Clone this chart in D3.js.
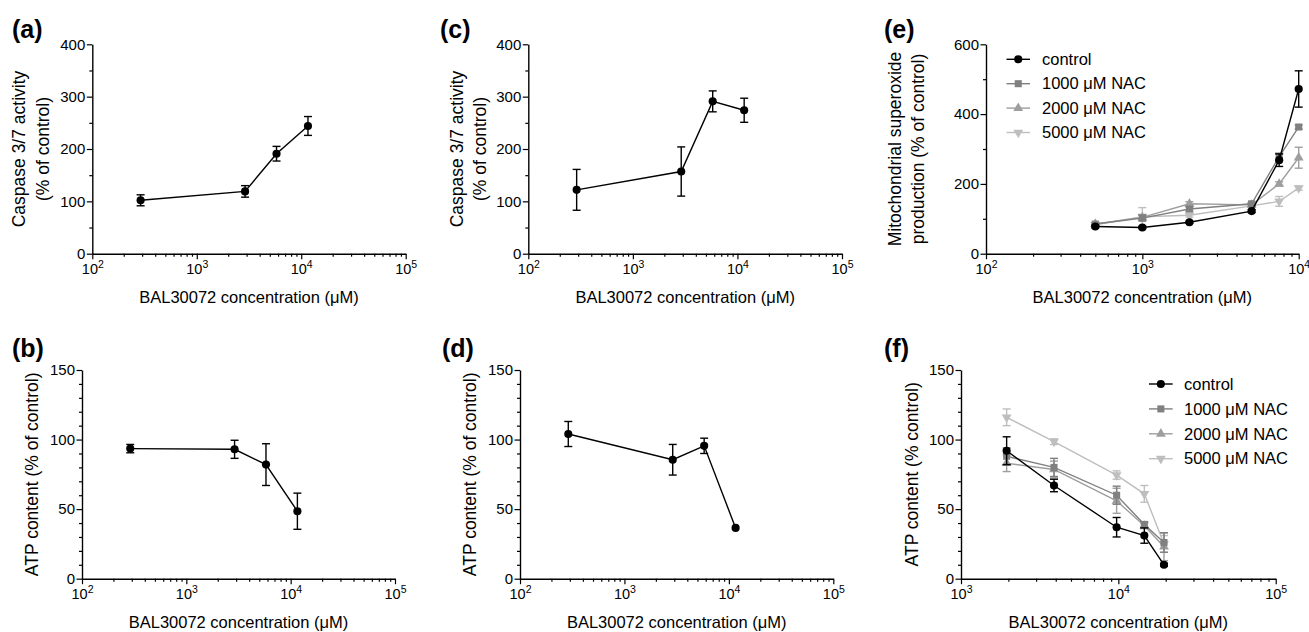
<!DOCTYPE html>
<html>
<head>
<meta charset="utf-8">
<script src="https://cdn.jsdelivr.net/npm/d3@7"></script>
<style>
  body { margin: 0; background: #fff; }
  svg { font-family: "Liberation Sans", Arial, sans-serif; }
</style>
</head>
<body>
<svg id="fig" width="1309" height="632"></svg>
<script>
// BAL30072 concentrations (uM)
const concAD = [290, 2900, 5800, 11600];
const concE = [500, 1000, 2000, 5000, 7500, 10000];
const concF = [1950, 3900, 9750, 14625, 19500];

// (a) caspase 3/7, (c) caspase 3/7
const caspaseA = [102, 119, 191, 244];
const caspaseAErr = [10.5, 11, 14, 18];
const caspaseC = [122, 157, 291, 274];
const caspaseCErr = [39, 47, 20, 23];

// (b), (d) ATP content
const atpB = [93.5, 93, 82, 48.5];
const atpBErr = [3, 6.5, 15, 13];
const atpD = [104, 85.5, 95.5, 36.5];
const atpDErr = [9, 11, 5.5, 0];

// (e) mitochondrial superoxide
const supControl = [78, 75, 90, 122, 268, 472];
const supControlErr = [4, 3, 3, 4, 18, 52];
const sup1000 = [85, 102, 128, 143, 278, 363];
const sup1000Err = [4, 8, 6, 4, 10, 6];
const sup2000 = [85, 104, 143, 140, 200, 275];
const sup2000Err = [4, 8, 6, 4, 6, 30];
const sup5000 = [83, 106, 110, 137, 150, 188];
const sup5000Err = [3, 26, 5, 4, 14, 6];

// (f) ATP content with NAC
const atpFControl = [92, 67, 37, 31, 10];
const atpFControlErr = [10, 4.5, 7, 5.5, 1];
const atpF1000 = [88, 80, 60, 39, 26];
const atpF1000Err = [6, 6.5, 6.5, 2, 7];
const atpF2000 = [83, 78.5, 56, 38, 23];
const atpF2000Err = [6, 6, 9, 2, 10];
const atpF5000 = [116, 98.5, 74.5, 61, 25];
const atpF5000Err = [6, 2, 3, 6, 6];

const seriesNames = ['control', '1000 \u03bcM NAC', '2000 \u03bcM NAC', '5000 \u03bcM NAC'];
const xTitle = 'BAL30072 concentration (\u03bcM)';

const styles = [
  { color: '#000000', symbol: d3.symbolCircle, size: 52, rotate: 0 },
  { color: '#808080', symbol: d3.symbolSquare, size: 50, rotate: 0 },
  { color: '#9e9e9e', symbol: d3.symbolTriangle, size: 42, rotate: 0 },
  { color: '#bebebe', symbol: d3.symbolTriangle, size: 42, rotate: 180 }
];

function mk(conc, vals, errs) {
  return conc.map((c, i) => ({ c: c, v: vals[i], e: errs[i] }));
}

const panels = [
  { label: '(a)', lx: 12, ly: 38, left: 92.3, right: 405.7, top: 44.3, bottom: 253.7,
    xDomain: [1e2, 1e5], yDomain: [0, 400], major: 100, minor: 50,
    yTitle: ['Caspase 3/7 activity', '(% of control)'], yTitleX: [19, 43],
    series: [mk(concAD, caspaseA, caspaseAErr)] },
  { label: '(c)', lx: 440, ly: 38, left: 528.3, right: 842, top: 44.3, bottom: 253.7,
    xDomain: [1e2, 1e5], yDomain: [0, 400], major: 100, minor: 50,
    yTitle: ['Caspase 3/7 activity', '(% of control)'], yTitleX: [456.5, 480],
    series: [mk(concAD, caspaseC, caspaseCErr)] },
  { label: '(e)', lx: 884, ly: 38, left: 986, right: 1298.7, top: 44.3, bottom: 253.7,
    xDomain: [1e2, 1e4], yDomain: [0, 600], major: 200, minor: 100,
    yTitle: ['Mitochondrial superoxide', 'production (% of control)'], yTitleX: [895, 918],
    series: [mk(concE, supControl, supControlErr), mk(concE, sup1000, sup1000Err),
             mk(concE, sup2000, sup2000Err), mk(concE, sup5000, sup5000Err)],
    legend: { x0: 1006.5, x1: 1030, tx: 1042, y0: 59.3, dy: 24.4 } },
  { label: '(b)', lx: 12, ly: 357, left: 82, right: 395, top: 370, bottom: 578.7,
    xDomain: [1e2, 1e5], yDomain: [0, 150], major: 50, minor: 10,
    yTitle: ['ATP content (% of control)'], yTitleX: [31.5],
    series: [mk(concAD, atpB, atpBErr)] },
  { label: '(d)', lx: 442, ly: 357, left: 520, right: 833.3, top: 370, bottom: 578.7,
    xDomain: [1e2, 1e5], yDomain: [0, 150], major: 50, minor: 10,
    yTitle: ['ATP content (% of control)'], yTitleX: [470],
    series: [mk(concAD, atpD, atpDErr)] },
  { label: '(f)', lx: 884, ly: 357, left: 961, right: 1275.7, top: 370, bottom: 578.7,
    xDomain: [1e3, 1e5], yDomain: [0, 150], major: 50, minor: 10,
    yTitle: ['ATP content (% control)'], yTitleX: [911.5],
    series: [mk(concF, atpFControl, atpFControlErr), mk(concF, atpF1000, atpF1000Err),
             mk(concF, atpF2000, atpF2000Err), mk(concF, atpF5000, atpF5000Err)],
    legend: { x0: 1149, x1: 1172.7, tx: 1184, y0: 384, dy: 24.9 } }
];

function isDecade(d) {
  const l = Math.log10(d);
  return Math.abs(l - Math.round(l)) < 1e-9;
}

function marker(sel, st) {
  sel.attr('d', d3.symbol().type(st.symbol).size(st.size)())
    .attr('fill', st.color);
}

function drawPanel(p) {
  const svg = d3.select('#fig');
  const g = svg.append('g');
  const x = d3.scaleLog().domain(p.xDomain).range([p.left, p.right]);
  const y = d3.scaleLinear().domain(p.yDomain).range([p.bottom, p.top]);

  // x axis, log ticks with minor ticks at 2..9
  const xTicks = [];
  const e0 = Math.round(Math.log10(p.xDomain[0]));
  const e1 = Math.round(Math.log10(p.xDomain[1]));
  for (let e = e0; e <= e1; e++) {
    for (let m = 1; m < 10; m++) {
      const v = m * Math.pow(10, e);
      if (v <= p.xDomain[1] * 1.0001) xTicks.push(v);
    }
  }
  const gx = g.append('g')
    .attr('transform', `translate(0,${p.bottom})`)
    .call(d3.axisBottom(x).tickValues(xTicks).tickSize(3).tickSizeOuter(0).tickFormat(''));
  gx.select('.domain').attr('stroke', '#000').attr('stroke-width', 1.4);
  gx.selectAll('.tick line').attr('stroke', '#000').attr('stroke-width', 1.2);
  const maj = gx.selectAll('.tick').filter(d => isDecade(d));
  maj.select('line').attr('y2', 5.5);
  maj.select('text')
    .attr('y', 20.5).attr('dy', null)
    .attr('fill', '#000').attr('font-size', 14.5)
    .attr('font-family', '"Liberation Sans", Arial, sans-serif')
    .each(function (d) {
      const t = d3.select(this);
      t.text('10');
      t.append('tspan').attr('dy', -6).attr('font-size', 10.5)
        .text(Math.round(Math.log10(d)));
    });

  // y axis
  const yTicks = d3.range(p.yDomain[0], p.yDomain[1] + 1e-9, p.minor);
  const gy = g.append('g')
    .attr('transform', `translate(${p.left},0)`)
    .call(d3.axisLeft(y).tickValues(yTicks).tickSize(3).tickSizeOuter(0)
      .tickFormat(d => (d % p.major === 0 ? d : '')));
  gy.select('.domain').attr('stroke', '#000').attr('stroke-width', 1.4);
  gy.selectAll('.tick line').attr('stroke', '#000').attr('stroke-width', 1.2);
  gy.selectAll('.tick').filter(d => d % p.major === 0).select('line').attr('x2', -5.5);
  gy.selectAll('.tick text')
    .attr('x', -7).attr('fill', '#000').attr('font-size', 15)
    .attr('font-family', '"Liberation Sans", Arial, sans-serif');

  // axis titles
  g.append('text')
    .attr('x', (p.left + p.right) / 2)
    .attr('y', p.bottom + 49.5)
    .attr('text-anchor', 'middle')
    .attr('font-size', 16.5)
    .text(xTitle);
  p.yTitle.forEach((t, i) => {
    g.append('text')
      .attr('transform', `translate(${p.yTitleX[i]},${(p.top + p.bottom) / 2}) rotate(-90)`)
      .attr('dy', '0.35em')
      .attr('text-anchor', 'middle')
      .attr('font-size', 17.5)
      .text(t);
  });

  // panel label
  g.append('text')
    .attr('x', p.lx).attr('y', p.ly)
    .attr('font-size', 25).attr('font-weight', 'bold')
    .text(p.label);

  // series, drawn with control on top
  const line = d3.line().x(d => x(d.c)).y(d => y(d.v));
  for (let s = p.series.length - 1; s >= 0; s--) {
    const data = p.series[s];
    const st = styles[s];
    const sg = g.append('g');
    sg.append('path')
      .attr('d', line(data))
      .attr('fill', 'none')
      .attr('stroke', st.color)
      .attr('stroke-width', 1.4);
    const eb = sg.selectAll('g.err').data(data.filter(d => d.e > 0)).enter().append('g');
    eb.append('line')
      .attr('x1', d => x(d.c)).attr('x2', d => x(d.c))
      .attr('y1', d => y(d.v - d.e)).attr('y2', d => y(d.v + d.e));
    eb.append('line')
      .attr('x1', d => x(d.c) - 4).attr('x2', d => x(d.c) + 4)
      .attr('y1', d => y(d.v + d.e)).attr('y2', d => y(d.v + d.e));
    eb.append('line')
      .attr('x1', d => x(d.c) - 4).attr('x2', d => x(d.c) + 4)
      .attr('y1', d => y(d.v - d.e)).attr('y2', d => y(d.v - d.e));
    eb.selectAll('line').attr('stroke', st.color).attr('stroke-width', 1.4);
    sg.selectAll('path.pt').data(data).enter().append('path')
      .attr('class', 'pt')
      .attr('transform', d => `translate(${x(d.c)},${y(d.v)}) rotate(${st.rotate})`)
      .call(marker, st);
  }

  // legend
  if (p.legend) {
    const L = p.legend;
    p.series.forEach((s, i) => {
      const st = styles[i];
      const ly = L.y0 + i * L.dy;
      g.append('line')
        .attr('x1', L.x0).attr('x2', L.x1).attr('y1', ly).attr('y2', ly)
        .attr('stroke', st.color).attr('stroke-width', 1.4);
      g.append('path')
        .attr('transform', `translate(${(L.x0 + L.x1) / 2},${ly}) rotate(${st.rotate})`)
        .call(marker, st);
      g.append('text')
        .attr('x', L.tx).attr('y', ly).attr('dy', '0.35em')
        .attr('font-size', 16.5)
        .text(seriesNames[i]);
    });
  }
}

panels.forEach(drawPanel);
</script>
</body>
</html>
